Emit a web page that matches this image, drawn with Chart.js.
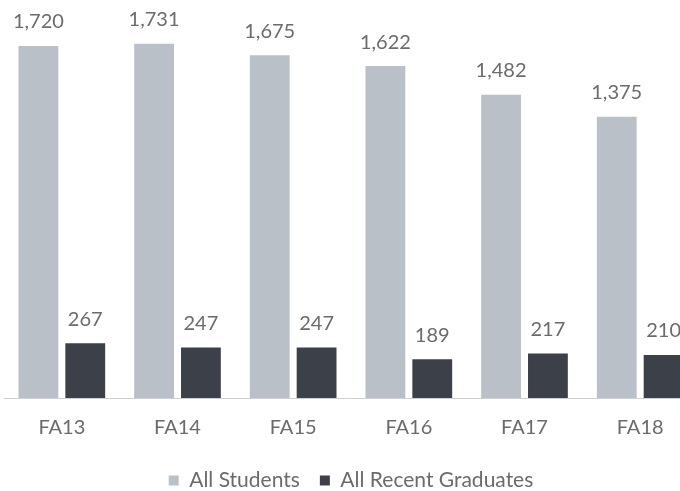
<!DOCTYPE html>
<html>
<head>
<meta charset="utf-8">
<script src="https://cdn.jsdelivr.net/npm/chart.js@4"></script>
<style>
  html, body { margin: 0; padding: 0; background: #fff; overflow: hidden; }
  #wrap { position: absolute; left: 4px; top: 0; width: 694px; height: 491px; }
</style>
</head>
<body>
<div id="wrap"><canvas id="chart"></canvas></div>
<script>
var terms = ['FA13', 'FA14', 'FA15', 'FA16', 'FA17', 'FA18'];
var allStudents = [1720, 1731, 1675, 1622, 1482, 1375];
var recentGrads = [267, 247, 247, 189, 217, 210];

Chart.defaults.font.family = "Lato, 'Open Sans', sans-serif";
Chart.defaults.font.size = 20;
Chart.defaults.color = '#6b6b6b';

var valueLabels = {
    id: 'valueLabels',
    afterDatasetsDraw: function (chart) {
        var ctx = chart.ctx;
        ctx.save();
        ctx.font = "20px Lato, 'Open Sans', sans-serif";
        ctx.fillStyle = '#6b6b6b';
        ctx.textAlign = 'center';
        ctx.textBaseline = 'middle';
        chart.data.datasets.forEach(function (ds, i) {
            chart.getDatasetMeta(i).data.forEach(function (bar, j) {
                ctx.fillText(ds.data[j].toLocaleString('en-US'), bar.x, bar.y - 24);
            });
        });
        ctx.restore();
    }
};

new Chart(document.getElementById('chart'), {
    type: 'bar',
    data: {
        labels: terms,
        datasets: [
            {
                label: 'All Students',
                data: allStudents,
                backgroundColor: '#b9c0c8',
                barPercentage: 0.85,
                categoryPercentage: 0.81
            },
            {
                label: 'All Recent Graduates',
                data: recentGrads,
                backgroundColor: '#3c4149',
                barPercentage: 0.85,
                categoryPercentage: 0.81
            }
        ]
    },
    options: {
        responsive: true,
        maintainAspectRatio: false,
        animation: false,
        layout: { padding: { top: 0, bottom: -10 } },
        plugins: {
            tooltip: { enabled: false },
            legend: {
                position: 'bottom',
                labels: { boxWidth: 10, boxHeight: 10, padding: 20, font: { size: 21 } }
            }
        },
        scales: {
            y: { display: false, min: 0, max: 1945 },
            x: {
                grid: { display: false },
                border: { display: true, color: '#d0d0d0' },
                ticks: { padding: 10 }
            }
        }
    },
    plugins: [valueLabels]
});
</script>
</body>
</html>
